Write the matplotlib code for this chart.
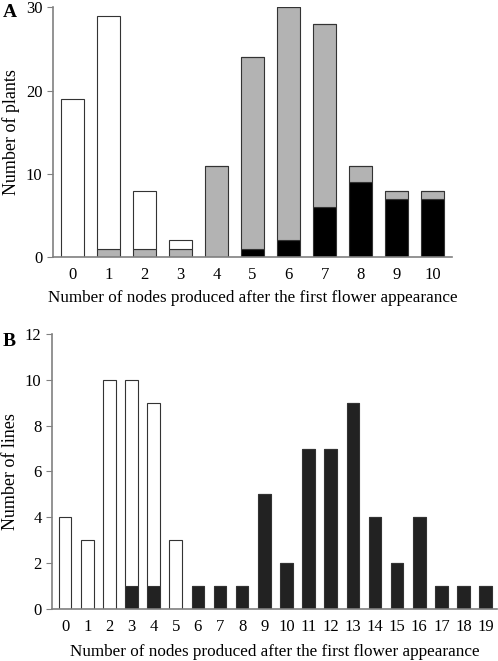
import numpy as np
import matplotlib
matplotlib.use("Agg")
import matplotlib.pyplot as plt

plt.rcParams['font.family'] = ['Liberation Serif', 'DejaVu Serif']

# Panel A
nodes_a = list(range(11))
black_a = [0, 0, 0, 0, 0, 1, 2, 6, 9, 7, 7]
gray_a = [0, 1, 1, 1, 11, 23, 28, 22, 2, 1, 1]
white_a = [19, 28, 7, 1, 0, 0, 0, 0, 0, 0, 0]

# Panel B
nodes_b = list(range(20))
black_b = [0, 0, 0, 1, 1, 0, 1, 1, 1, 5, 2, 7, 7, 9, 4, 2, 4, 1, 1, 1]
white_b = [4, 3, 10, 9, 8, 3, 0, 0, 0, 0, 0, 0, 0, 0, 0, 0, 0, 0, 0, 0]

xlabel = 'Number of nodes produced after the first flower appearance'
axis_col = '#808080'
edge_col = '#333333'

fig = plt.figure(figsize=(4.98, 6.61), dpi=100)


def style(ax):
    for s in ['top', 'right']:
        ax.spines[s].set_visible(False)
    for s in ['left', 'bottom']:
        ax.spines[s].set_color(axis_col)
        ax.spines[s].set_linewidth(1.2)
    ax.tick_params(axis='y', direction='out', length=4, color=axis_col, labelsize=12)
    ax.tick_params(axis='x', length=0, labelsize=12, pad=7)


# A
ax1 = fig.add_axes([0.1064, 0.611, 0.8012, 0.378])
x = np.array(nodes_a)
b = np.array(black_a)
g = np.array(gray_a)
w = np.array(white_a)
kw = dict(width=0.64, edgecolor=edge_col, linewidth=0.8)
ax1.bar(x, b, color='black', **kw)
ax1.bar(x, g, bottom=b, color='#b3b3b3', **kw)
ax1.bar(x, w, bottom=b + g, color='white', **kw)
ax1.set_xlim(-0.53, 10.53)
ax1.set_ylim(0, 30)
ax1.set_yticks([0, 10, 20, 30])
ax1.set_xticks(x)
ax1.set_ylabel('Number of plants', fontsize=13)
ax1.set_xlabel(xlabel, fontsize=12.3, labelpad=5)
style(ax1)
fig.text(0.005, 0.975, 'A', fontsize=14, fontweight='bold')

# B
ax2 = fig.add_axes([0.1044, 0.0787, 0.894, 0.416])
x = np.array(nodes_b)
b = np.array(black_b)
w = np.array(white_b)
kw = dict(width=0.57, edgecolor=edge_col, linewidth=0.8)
ax2.bar(x, b, color='#222222', **kw)
ax2.bar(x, w, bottom=b, color='white', **kw)
ax2.set_xlim(-0.59, 19.52)
ax2.set_ylim(0, 12)
ax2.set_yticks(range(0, 13, 2))
ax2.set_xticks(x)
ax2.set_ylabel('Number of lines', fontsize=13)
ax2.set_xlabel(xlabel, fontsize=12.3, labelpad=7)
style(ax2)
fig.text(0.005, 0.477, 'B', fontsize=14, fontweight='bold')

fig.savefig('out.png', dpi=100)
